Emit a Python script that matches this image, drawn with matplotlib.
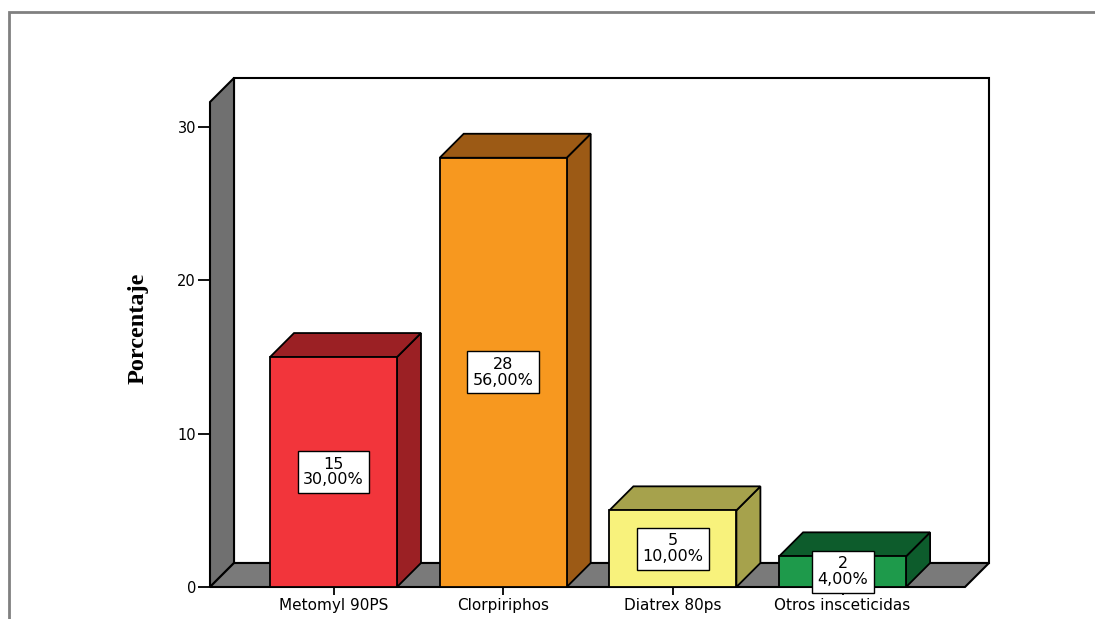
import matplotlib
matplotlib.use("Agg")
import matplotlib.pyplot as plt
from matplotlib.patches import Polygon, Rectangle

categories = ["Metomyl 90PS", "Clorpiriphos", "Diatrex 80ps", "Otros insceticidas"]
counts = [15, 28, 5, 2]
percents = [30.0, 56.0, 10.0, 4.0]
yticks = [0, 10, 20, 30]
front_colors = ["#f2353b", "#f7981f", "#f8f27c", "#1e9a4b"]
dark_colors = ["#9b2024", "#9c5a15", "#a6a24c", "#0d5c2c"]

W, H = 1095, 619
fig = plt.figure(figsize=(W / 100, H / 100), dpi=100)

# pixel geometry of the front plotting region
left_px, right_px = 210, 965
bottom_px, top_px = 587, 102
x0px, xstep = 333.5, 169.7
ystep = 15.33
depth_px = 24

ax = fig.add_axes([left_px / W, 1 - bottom_px / H,
                   (right_px - left_px) / W, (bottom_px - top_px) / H])
ax.set_xlim((left_px - x0px) / xstep, (right_px - x0px) / xstep)
ax.set_ylim(0, (bottom_px - top_px) / ystep)
xlo, xhi = ax.get_xlim()
dx = depth_px / xstep
dy = depth_px / ystep
ymax_front = (bottom_px - top_px) / ystep

for s in ax.spines.values():
    s.set_visible(False)
ax.patch.set_visible(False)

edge = dict(edgecolor="black", linewidth=1.5, clip_on=False, joinstyle="miter")
# back wall
ax.add_patch(Rectangle((xlo + dx, dy), (xhi - xlo), ymax_front, facecolor="white", zorder=1, **edge))
# left wall
ax.add_patch(Polygon([(xlo, 0), (xlo + dx, dy), (xlo + dx, ymax_front + dy), (xlo, ymax_front)],
                     closed=True, facecolor="#707070", zorder=2, **edge))
# floor
ax.add_patch(Polygon([(xlo, 0), (xlo + dx, dy), (xhi + dx, dy), (xhi, 0)],
                     closed=True, facecolor="#7a7a7a", zorder=2, **edge))

xs = list(range(len(categories)))
bw = 127 / xstep
bars = ax.bar(xs, counts, width=bw, color=front_colors, edgecolor="black",
              linewidth=1.3, zorder=4)
for i, (v, dc) in enumerate(zip(counts, dark_colors)):
    a, b = i - bw / 2, i + bw / 2
    ax.add_patch(Polygon([(b, 0), (b + dx, dy), (b + dx, v + dy), (b, v)], closed=True,
                         facecolor=dc, edgecolor="black", linewidth=1.3, zorder=3))
    ax.add_patch(Polygon([(a, v), (a + dx, v + dy), (b + dx, v + dy), (b, v)], closed=True,
                         facecolor=dc, edgecolor="black", linewidth=1.3, zorder=3))
    lab = f"{counts[i]}\n{percents[i]:.2f}%".replace(".", ",")
    ax.text(i, v / 2, lab, ha="center", va="center", fontsize=11.5,
            family="DejaVu Sans", linespacing=1.05, zorder=6,
            bbox=dict(boxstyle="square,pad=0.35", facecolor="white", edgecolor="black", linewidth=1.0))

ax.set_yticks(yticks)
ax.set_yticklabels([str(t) for t in yticks], family="DejaVu Sans", fontsize=10.5)
ax.tick_params(axis="y", length=9, width=1.3, pad=1, direction="out")
ax.set_xticks(xs)
ax.set_xticklabels(categories, family="DejaVu Sans", fontsize=11)
ax.tick_params(axis="x", length=6, width=1.3, pad=2, direction="out")

ax.set_ylabel("Porcentaje", family="Liberation Serif", fontweight="bold", fontsize=17.5)
ax.yaxis.set_label_coords((149 - left_px) / (right_px - left_px),
                          (bottom_px - 328) / (bottom_px - top_px))

# outer frame
fig.add_artist(Rectangle((9 / W, -0.05), 1.2, 1 - 12 / H + 0.05, transform=fig.transFigure,
                         facecolor="none", edgecolor="#808080", linewidth=2))

fig.savefig("out.png", dpi=100)
